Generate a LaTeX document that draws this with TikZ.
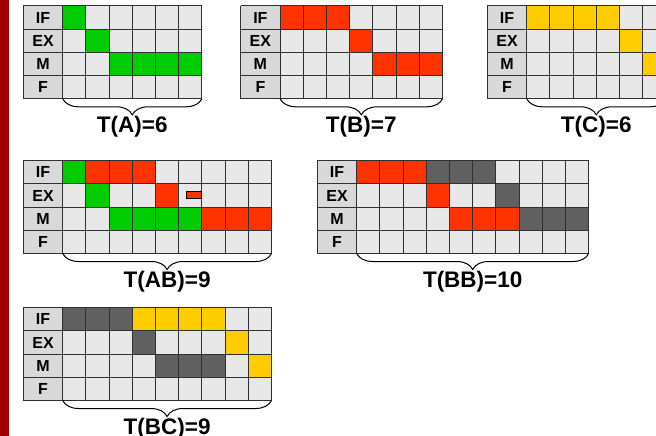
\documentclass[tikz,border=0pt]{standalone}
\usepackage{fontspec}
\setmainfont{Liberation Sans}
\usetikzlibrary{decorations.pathreplacing}
\definecolor{gA}{HTML}{00CC00}
\definecolor{rB}{HTML}{FF3300}
\definecolor{yC}{HTML}{FFCC00}
\definecolor{dk}{HTML}{606060}
\definecolor{cellgray}{HTML}{E8E8E8}
\definecolor{labgray}{HTML}{D9D9D9}
\definecolor{gridc}{HTML}{303030}
\definecolor{barred}{HTML}{A00000}
\tikzset{
  gridline/.style={draw=gridc, line width=1pt},
  lab/.style={font=\fontsize{16}{16}\selectfont\bfseries, inner sep=0pt},
  captext/.style={font=\fontsize{22.5}{22.5}\selectfont\bfseries, inner sep=0pt, anchor=base},
  brc/.style={draw=black, line width=1pt, decorate, decoration={brace, mirror, amplitude=16pt}},
}
\def\lw{39.4}
\def\cw{23.2}
% #1 name, #2 x, #3 y, #4 ncols, #5 coloured cells, #6 caption
\newcommand\pgrid[6]{%
\begin{scope}[shift={(#2,#3)}]
  \fill[labgray] (0,0) rectangle (\lw,4*\cw);
  \fill[cellgray] (\lw,0) rectangle ({\lw+#4*\cw},4*\cw);
  \foreach \r/\c/\col in {#5} {
    \fill[\col] ({\lw+(\c-1)*\cw},{(\r-1)*\cw}) rectangle ++(\cw,\cw);
  }
  \foreach \i in {0,...,4} {
    \draw[gridline] (0,\i*\cw) -- ({\lw+#4*\cw},\i*\cw);
  }
  \draw[gridline] (0,0) -- (0,4*\cw);
  \foreach \j in {0,...,#4} {
    \draw[gridline] ({\lw+\j*\cw},0) -- ++(0,4*\cw);
  }
  \foreach \t [count=\k] in {IF,EX,M,F} {
    \node[lab] (#1-\t) at ({\lw/2},{(\k-0.5)*\cw}) {\t};
  }
  \coordinate (#1-bl) at (\lw,4*\cw);
  \coordinate (#1-br) at ({\lw+#4*\cw},4*\cw);
  \draw[brc] (#1-bl) -- (#1-br);
  \node[captext] (#1-cap) at ({\lw+#4*\cw/2},{4*\cw+33.5}) {#6};
\end{scope}}
\begin{document}
\begin{tikzpicture}[x=1pt,y=-1pt]
\useasboundingbox (0,0) rectangle (656,436);
\clip (0,0) rectangle (656,436);
\fill[white] (0,0) rectangle (656,436);
\fill[barred] (0,0) rectangle (9.3,436);
\pgrid{A}{23.3}{6}{6}{1/1/gA,2/2/gA,3/3/gA,3/4/gA,3/5/gA,3/6/gA}{T(A)=6}
\pgrid{B}{240.7}{6}{7}{1/1/rB,1/2/rB,1/3/rB,2/4/rB,3/5/rB,3/6/rB,3/7/rB}{T(B)=7}
\pgrid{C}{487.3}{6}{6}{1/1/yC,1/2/yC,1/3/yC,1/4/yC,2/5/yC,3/6/yC}{T(C)=6}
\pgrid{AB}{23.3}{160.7}{9}{1/1/gA,1/2/rB,1/3/rB,1/4/rB,2/2/gA,2/5/rB,3/3/gA,3/4/gA,3/5/gA,3/6/gA,3/7/rB,3/8/rB,3/9/rB}{T(AB)=9}
\pgrid{BB}{317.3}{160.7}{10}{1/1/rB,1/2/rB,1/3/rB,1/4/dk,1/5/dk,1/6/dk,2/4/rB,2/7/dk,3/5/rB,3/6/rB,3/7/rB,3/8/dk,3/9/dk,3/10/dk}{T(BB)=10}
\pgrid{BC}{23.3}{307.7}{9}{1/1/dk,1/2/dk,1/3/dk,1/4/yC,1/5/yC,1/6/yC,1/7/yC,2/4/dk,2/8/yC,3/5/dk,3/6/dk,3/7/dk,3/9/yC}{T(BC)=9}
\node[draw=black, line width=0.8pt, fill=rB, minimum width=15pt, minimum height=7pt, inner sep=0pt] (stall) at (193.9,195.3) {};
\end{tikzpicture}
\end{document}
